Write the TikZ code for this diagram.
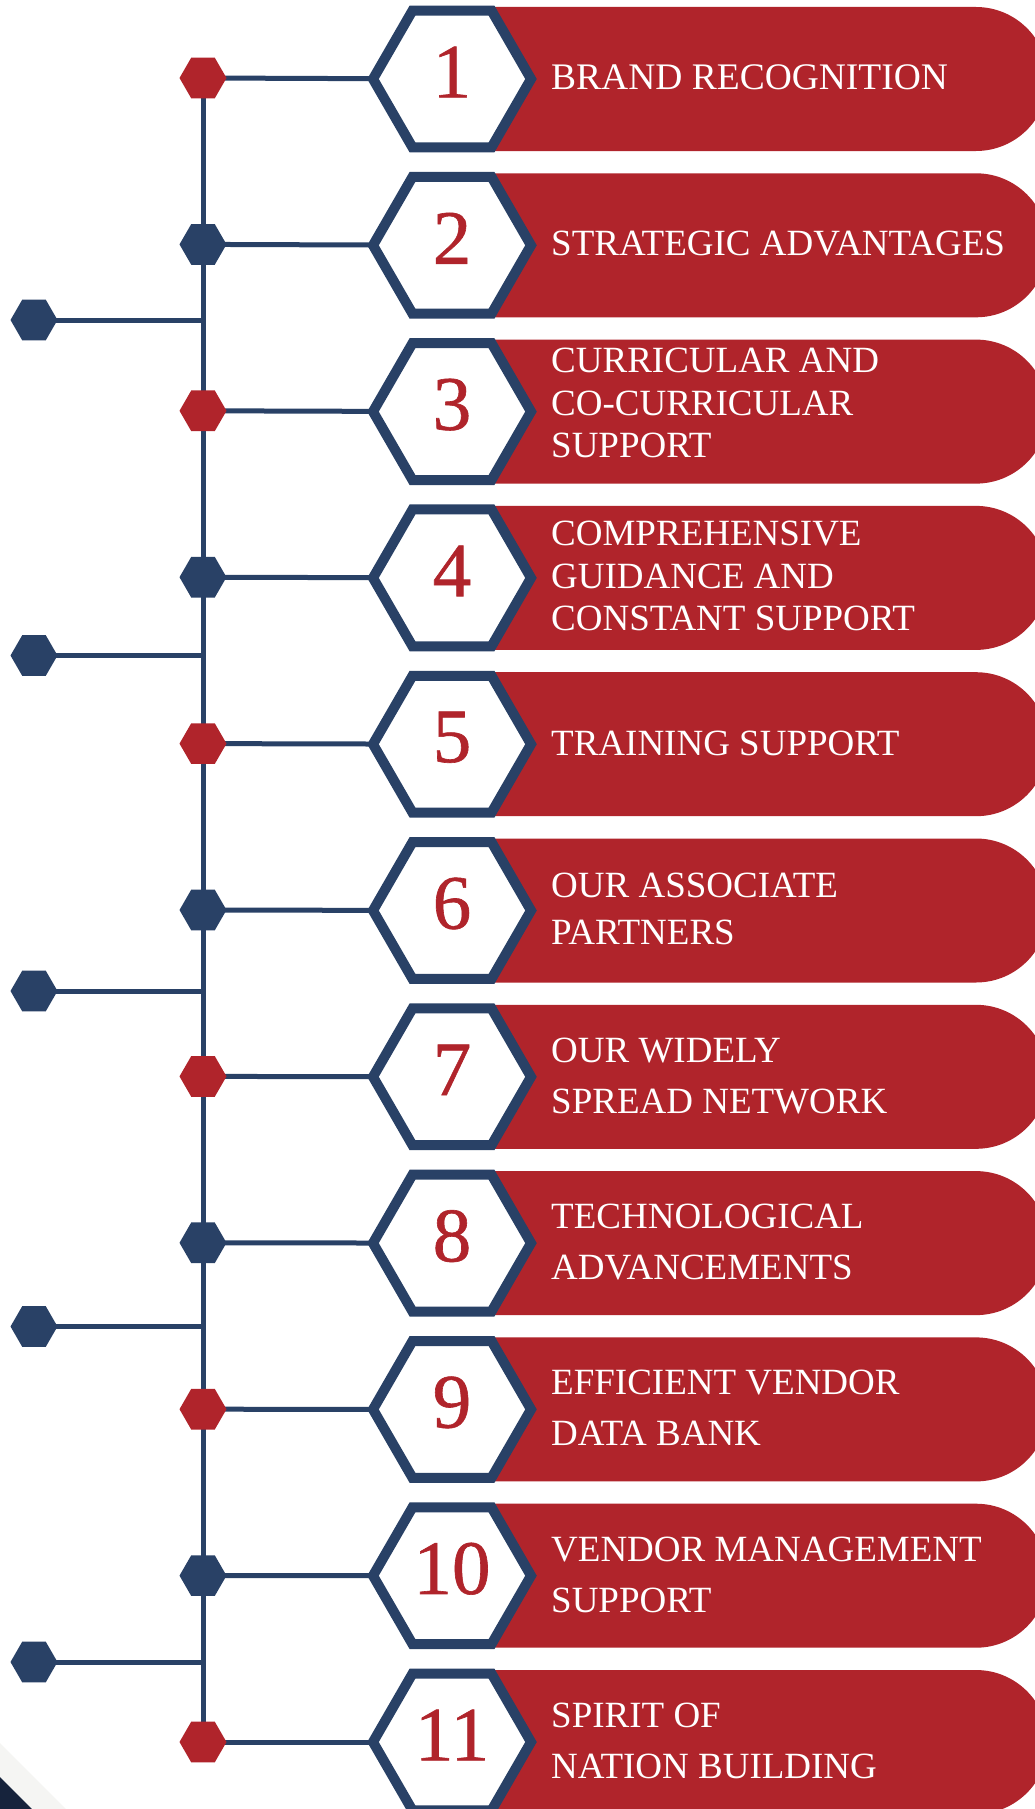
\documentclass[tikz,border=0pt]{standalone}
\usepackage{fontspec}
\setmainfont{Liberation Serif}
\newfontfamily\numfont[FakeBold=0.8]{Liberation Serif}
\usetikzlibrary{shapes.geometric}
\definecolor{navy}{RGB}{41,65,102}
\definecolor{brickred}{RGB}{176,36,43}
\definecolor{bandgray}{RGB}{245,245,243}
\definecolor{darknavy}{RGB}{22,35,60}
\pgfdeclarelayer{bg}
\pgfsetlayers{bg,main}
\newcommand\redbar[1]{\fill[brickred] (452,#1-72) -- (976,#1-72) arc[start angle=-90,end angle=90,radius=72] -- (452,#1+72) -- cycle;}
\begin{document}
\begin{tikzpicture}[x=1pt,y=-1pt,
  bighex/.style={regular polygon, regular polygon sides=6, minimum size=158pt, inner sep=0pt, draw=navy, line width=10pt, fill=white},
  dothex/.style={regular polygon, regular polygon sides=6, minimum size=47pt, inner sep=0pt, fill=#1},
  num/.style={text=brickred, font=\numfont\fontsize{77}{77}\selectfont, inner sep=0pt},
  lbl/.style={text=white, anchor=west, align=left, inner sep=0pt, font=\fontsize{37}{51}\selectfont},
  conn/.style={draw=navy, line width=5pt},
]
\useasboundingbox (0,0) rectangle (1035,1809);
\clip (0,0) rectangle (1035,1809);

% red bars
\redbar{79}
\redbar{245.3}
\redbar{411.6}
\redbar{577.9}
\redbar{744.2}
\redbar{910.5}
\redbar{1076.8}
\redbar{1243.1}
\redbar{1409.4}
\redbar{1575.7}
\redbar{1742}

% big hexagons
\node[bighex] (h1) at (452,79) {};
\node[bighex] (h2) at (452,245.3) {};
\node[bighex] (h3) at (452,411.6) {};
\node[bighex] (h4) at (452,577.9) {};
\node[bighex] (h5) at (452,744.2) {};
\node[bighex] (h6) at (452,910.5) {};
\node[bighex] (h7) at (452,1076.8) {};
\node[bighex] (h8) at (452,1243.1) {};
\node[bighex] (h9) at (452,1409.4) {};
\node[bighex] (h10) at (452,1575.7) {};
\node[bighex] (h11) at (452,1742) {};

% numbers
\node[num] (n1) at (452,72) {1};
\node[num] (n2) at (452,238.3) {2};
\node[num] (n3) at (452,404.6) {3};
\node[num] (n4) at (452,570.9) {4};
\node[num] (n5) at (452,737.2) {5};
\node[num] (n6) at (452,903.5) {6};
\node[num] (n7) at (452,1069.8) {7};
\node[num] (n8) at (452,1236.1) {8};
\node[num] (n9) at (452,1402.4) {9};
\node[num] (n10) at (452,1568.7) {10};
\node[num] (n11) at (452,1735) {11};

% labels
\node[lbl, font=\fontsize{37.5}{51}\selectfont] (t1) at (551,77) {BRAND RECOGNITION};
\node[lbl] (t2) at (551,244) {STRATEGIC ADVANTAGES};
\node[lbl, font=\fontsize{37}{42.5}\selectfont] (t3) at (551,403) {CURRICULAR AND\\CO-CURRICULAR\\SUPPORT};
\node[lbl, font=\fontsize{37}{42.5}\selectfont] (t4) at (551,576) {COMPREHENSIVE\\GUIDANCE AND\\CONSTANT SUPPORT};
\node[lbl] (t5) at (551,743) {TRAINING SUPPORT};
\node[lbl, font=\fontsize{37}{47}\selectfont] (t6) at (551,909) {OUR ASSOCIATE\\PARTNERS};
\node[lbl] (t7) at (551,1076) {OUR WIDELY\\SPREAD NETWORK};
\node[lbl] (t8) at (551,1242) {TECHNOLOGICAL\\ADVANCEMENTS};
\node[lbl] (t9) at (551,1408) {EFFICIENT VENDOR\\DATA BANK};
\node[lbl] (t10) at (551,1575) {VENDOR MANAGEMENT\\SUPPORT};
\node[lbl] (t11) at (551,1741) {SPIRIT OF\\NATION BUILDING};

% small hexagons on the spine
\node[dothex=brickred] (s1) at (203,78) {};
\node[dothex=navy] (s2) at (203,244.4) {};
\node[dothex=brickred] (s3) at (203,410.8) {};
\node[dothex=navy] (s4) at (203,577.2) {};
\node[dothex=brickred] (s5) at (203,743.6) {};
\node[dothex=navy] (s6) at (203,910) {};
\node[dothex=brickred] (s7) at (203,1076.4) {};
\node[dothex=navy] (s8) at (203,1242.8) {};
\node[dothex=brickred] (s9) at (203,1409.2) {};
\node[dothex=navy] (s10) at (203,1575.6) {};
\node[dothex=brickred] (s11) at (203,1742) {};

% left hexagons
\node[dothex=navy] (l1) at (34,320) {};
\node[dothex=navy] (l2) at (34,655.5) {};
\node[dothex=navy] (l3) at (34,991) {};
\node[dothex=navy] (l4) at (34,1326.5) {};
\node[dothex=navy] (l5) at (34,1662) {};

\begin{pgfonlayer}{bg}
  \fill[white] (0,0) rectangle (1035,1809);
  % bottom-left corner decoration
  \fill[bandgray] (0,1743) -- (66,1809) -- (0,1809) -- cycle;
  \fill[darknavy] (0,1777) -- (32,1809) -- (0,1809) -- cycle;
  \draw[conn] (s1.center) -- (s11.center);
  \foreach \i in {1,...,11} { \draw[conn] (s\i.center) -- (h\i.center); }
  \foreach \i in {1,...,5} { \draw[conn] (l\i.center) -- (l\i -| s1); }
\end{pgfonlayer}
\end{tikzpicture}
\end{document}
